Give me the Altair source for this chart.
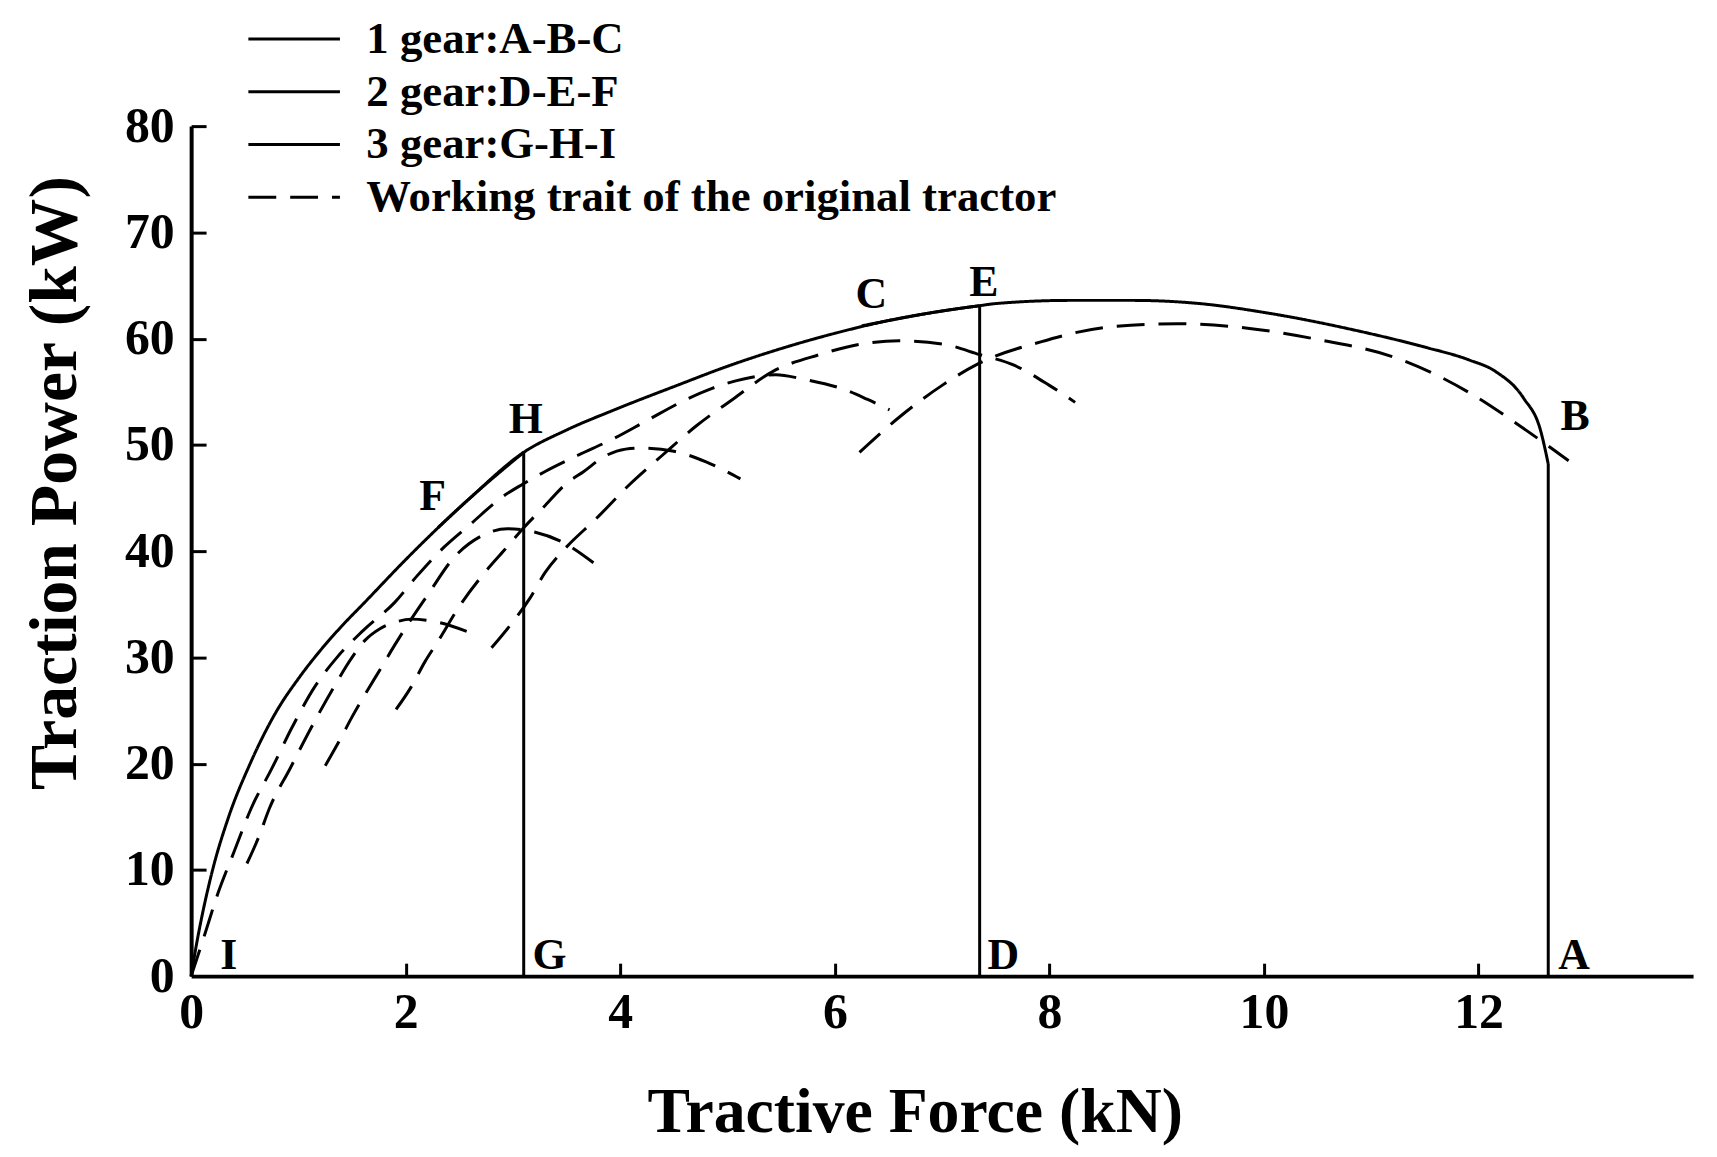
import altair as alt
import pandas as pd

# ---------------- data ----------------
series_order = ["1 gear:A-B-C", "2 gear:D-E-F", "3 gear:G-H-I",
                "Working trait of the original tractor"]

# new tractor (solid): vertical part of each gear (A-B, D-E, G-H)
vert_x = [12.65, 7.35, 3.1]
vert_top = [48.2, 63.1, 49.3]

# new tractor (solid): curved part of each gear (B-C, E-F, H-I)
gear1_x = [6.25, 6.5, 7.0, 7.35, 7.5, 8.2, 8.77, 9.4, 10.04, 10.89, 11.5, 11.91, 12.16, 12.42, 12.58, 12.65]
gear1_y = [61.2, 61.7, 62.6, 63.1, 63.3, 63.6, 63.6, 63.3, 62.4, 60.7, 59.2, 58.0, 56.9, 54.4, 51.3, 48.2]
gear2_x = [2.3, 2.6, 3.1, 3.5, 3.97, 4.53, 5.0, 5.61, 6.0, 6.5, 7.0, 7.35]
gear2_y = [42.2, 45.0, 49.3, 51.4, 53.4, 55.6, 57.4, 59.4, 60.5, 61.7, 62.6, 63.1]
gear3_x = [0.0, 0.05, 0.1, 0.2, 0.35, 0.55, 0.8, 1.0, 1.2, 1.4, 1.62, 2.0, 2.24, 2.6, 3.1]
gear3_y = [0.0, 3.0, 5.6, 10.0, 15.0, 20.0, 25.0, 28.0, 30.6, 32.9, 35.2, 39.2, 41.6, 45.0, 49.3]

# original tractor (dashed) – one arc per gear
orig1_x = [6.23, 6.6, 7.0, 7.33, 7.92, 8.56, 9.19, 9.83, 10.46, 11.31, 11.95, 12.37, 12.84]
orig1_y = [49.3, 52.6, 55.6, 57.6, 59.7, 61.1, 61.4, 61.0, 60.0, 57.9, 54.7, 51.9, 48.5]
orig2_x = [2.8, 2.98, 3.16, 3.3, 3.5, 3.77, 4.08, 4.39, 4.71, 5.05, 5.42, 5.86, 6.25, 6.6, 7.0, 7.35, 7.67, 8.0, 8.24]
orig2_y = [30.9, 33.1, 35.6, 38.0, 40.4, 43.0, 46.2, 49.0, 51.8, 54.3, 56.9, 58.5, 59.5, 59.8, 59.5, 58.5, 57.5, 55.6, 54.0]
orig3_x = [0.0, 0.12, 0.25, 0.4, 0.56, 0.75, 0.94, 1.15, 1.36, 1.6, 1.9, 2.1, 2.35, 2.6, 2.9, 3.09, 3.3, 3.6,
           3.94, 4.25, 4.6, 4.85, 5.15, 5.45, 5.7, 6.09, 6.3, 6.51]
orig3_y = [0.0, 3.7, 7.8, 11.7, 15.8, 19.5, 23.4, 27.2, 30.0, 32.5, 35.2, 37.6, 40.3, 42.5, 45.1, 46.3, 47.5, 49.0,
           50.6, 52.3, 54.2, 55.3, 56.2, 56.6, 56.2, 55.2, 54.3, 53.3]
orig4_x = [1.91, 2.05, 2.18, 2.3, 2.5, 2.73, 2.92, 3.1, 3.3, 3.49, 3.66, 3.85, 4.05, 4.2, 4.5, 4.8, 5.12]
orig4_y = [25.1, 27.2, 29.6, 31.5, 34.8, 37.9, 40.1, 42.2, 44.3, 46.3, 47.5, 48.9, 49.6, 49.7, 49.4, 48.4, 46.8]
orig5_x = [1.25, 1.39, 1.5, 1.65, 1.77, 1.9, 2.0, 2.2, 2.45, 2.7, 2.95, 3.2, 3.45, 3.75]
orig5_y = [19.8, 22.3, 24.4, 27.0, 29.0, 31.2, 32.8, 35.8, 39.4, 41.4, 42.1, 41.8, 40.9, 38.9]
orig6_x = [0.52, 0.63, 0.73, 0.92, 1.12, 1.33, 1.5, 1.62, 1.76, 1.9, 2.05, 2.3, 2.58]
orig6_y = [10.6, 13.1, 15.8, 19.5, 23.4, 27.2, 30.0, 31.6, 32.7, 33.3, 33.6, 33.3, 32.4]

# point labels
label_text = ["A", "B", "C", "D", "E", "F", "G", "H", "I"]
label_x = [12.89, 12.9, 6.34, 7.57, 7.39, 2.25, 3.34, 3.12, 0.35]
label_y = [1.9, 52.6, 64.1, 1.9, 65.2, 45.1, 1.9, 52.3, 1.9]

x_ticks = [0, 2, 4, 6, 8, 10, 12]
y_ticks = [0, 10, 20, 30, 40, 50, 60, 70, 80]

# ---------------- tables ----------------
def path_rows(name, series, xs, ys):
    return [{"curve": name, "series": series, "idx": i, "x": a, "y": b}
            for i, (a, b) in enumerate(zip(xs, ys))]

solid_rows = []
for k, (vx, vt) in enumerate(zip(vert_x, vert_top)):
    solid_rows += path_rows(f"v{k+1}", series_order[k], [vx, vx], [0.0, vt])
for k, (xs, ys) in enumerate([(gear1_x, gear1_y), (gear2_x, gear2_y), (gear3_x, gear3_y)]):
    solid_rows += path_rows(f"g{k+1}", series_order[k], xs, ys)

dash_rows = []
for k, (xs, ys) in enumerate([(orig1_x, orig1_y), (orig2_x, orig2_y), (orig3_x, orig3_y),
                              (orig4_x, orig4_y), (orig5_x, orig5_y), (orig6_x, orig6_y)]):
    dash_rows += path_rows(f"o{k+1}", series_order[3], xs, ys)

solid_df = pd.DataFrame(solid_rows)
dash_df = pd.DataFrame(dash_rows)
lab_df = pd.DataFrame({"label": label_text, "x": label_x, "y": label_y})

# ---------------- chart ----------------
W, H = 1509, 854
FONT = "Liberation Serif"
xscale = alt.Scale(domain=[0, 14], nice=False, zero=False)
yscale = alt.Scale(domain=[0, 80], nice=False, zero=False)

dash_scale = alt.Scale(domain=series_order, range=[[1, 0], [1, 0], [1, 0], [28, 14]])

legend = alt.Legend(
    title=None, orient="none", legendX=81, legendY=-110, direction="vertical",
    symbolType="M-4.6,0H4.6", symbolSize=400, symbolStrokeWidth=3,
    symbolStrokeColor="black", labelFont=FONT, labelFontWeight="bold",
    labelFontSize=45, labelColor="black", labelOffset=50, rowPadding=7,
    padding=0, labelLimit=1000,
)

dashed = alt.Chart(dash_df).mark_line(color="black", strokeWidth=3, interpolate="monotone").encode(
    x=alt.X("x:Q", scale=xscale, axis=None),
    y=alt.Y("y:Q", scale=yscale, axis=None),
    strokeDash=alt.StrokeDash("series:N", scale=dash_scale, legend=legend),
    detail="curve:N",
    order="idx:Q",
)

solid = alt.Chart(solid_df).mark_line(color="black", strokeWidth=3, interpolate="monotone").encode(
    x=alt.X("x:Q", scale=xscale, axis=alt.Axis(
        orient="bottom", values=x_ticks, ticks=False, tickSize=0, grid=False,
        domain=True, domainColor="black", domainWidth=4,
        labelFont=FONT, labelFontWeight="bold", labelFontSize=50, labelColor="black",
        labelPadding=12, labelFlush=False,
        title="Tractive Force (kN)", titleFont=FONT, titleFontWeight="bold", titleFontSize=64,
        titleColor="black", titleX=727, titleY=137, titleAlign="center", titleBaseline="middle")),
    y=alt.Y("y:Q", scale=yscale, axis=alt.Axis(
        orient="left", values=y_ticks, ticks=False, tickSize=0, grid=False,
        domain=True, domainColor="black", domainWidth=4,
        labelFont=FONT, labelFontWeight="bold", labelFontSize=50, labelColor="black",
        labelPadding=17,
        title="Traction Power (kW)", titleFont=FONT, titleFontWeight="bold", titleFontSize=68,
        titleColor="black", titleAngle=270, titleX=-136, titleY=358, titleAlign="center",
        titleBaseline="middle")),
    strokeDash=alt.StrokeDash("series:N", scale=dash_scale, legend=legend),
    detail="curve:N",
    order="idx:Q",
)

letters = alt.Chart(lab_df).mark_text(
    font=FONT, fontWeight="bold", fontSize=44, color="black", align="center", baseline="middle"
).encode(
    x=alt.X("x:Q", scale=xscale, axis=alt.Axis(
        orient="top", offset=-H, values=x_ticks[1:], ticks=True, tickSize=13, tickWidth=3,
        tickColor="black", labels=False, domain=False, grid=False, title=None)),
    y=alt.Y("y:Q", scale=yscale, axis=alt.Axis(
        orient="right", offset=-W, values=y_ticks[1:], ticks=True, tickSize=15, tickWidth=3,
        tickColor="black", labels=False, domain=False, grid=False, title=None)),
    text="label:N",
)

chart = alt.layer(dashed, solid, letters).resolve_axis(
    x="independent", y="independent"
).properties(
    width=W, height=H,
    autosize=alt.AutoSizeParams(type="none"),
    padding={"left": 184, "top": 116, "right": 16, "bottom": 170},
    background="white",
).configure_view(stroke=None)

chart.save("out.html", embed_options={"renderer": "svg", "actions": False})
